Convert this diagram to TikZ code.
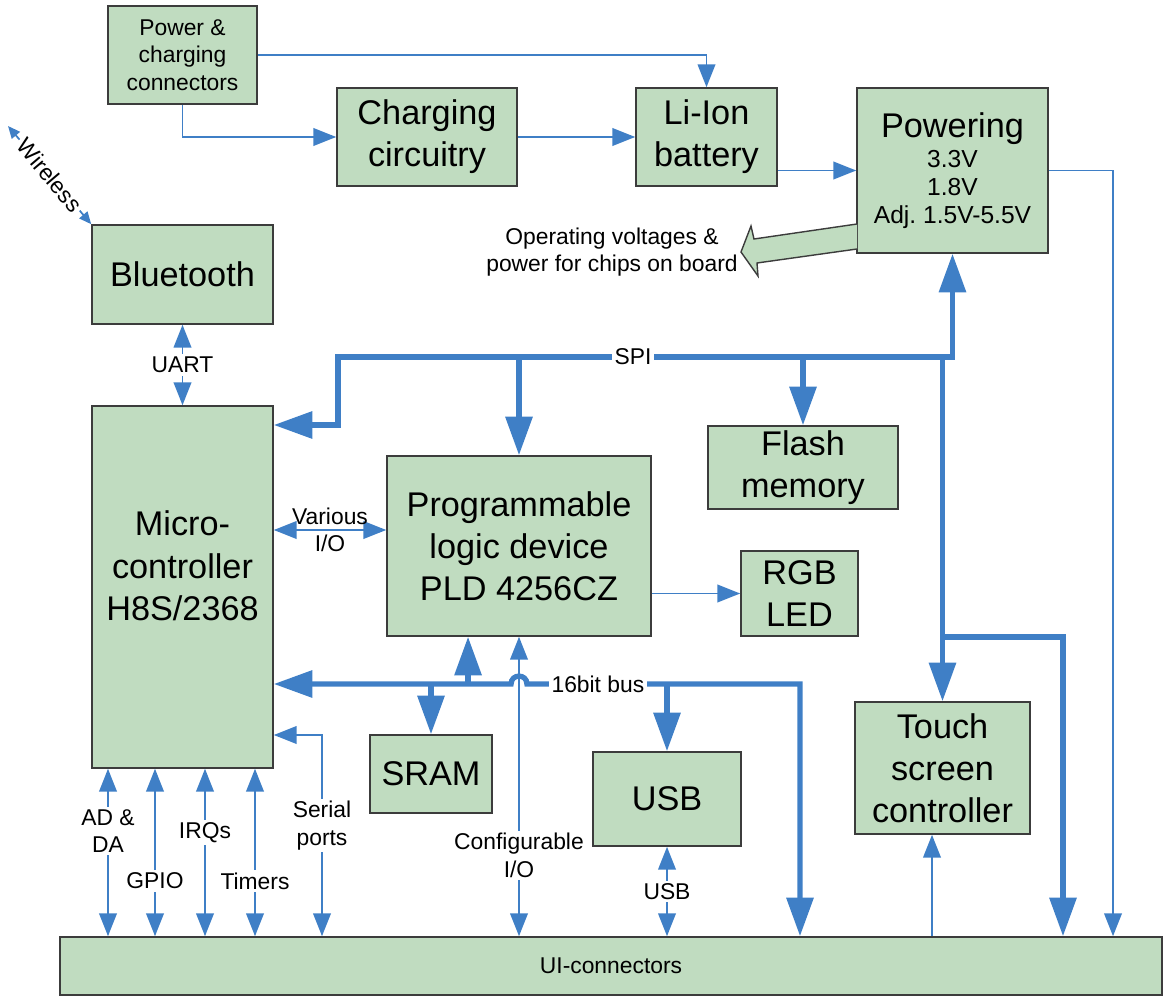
\documentclass[tikz,border=0pt]{standalone}
\usepackage{fontspec}
\setmainfont{Liberation Sans}
\usetikzlibrary{arrows.meta}
\definecolor{boardblue}{HTML}{3F7FC6}
\definecolor{boardgreen}{HTML}{C0DCC0}
\definecolor{boardedge}{HTML}{3C3C3C}
\newcommand{\bigfont}{\fontsize{19.5}{24}\selectfont}
\newcommand{\midfont}{\fontsize{14}{16}\selectfont}
\newcommand{\smallfont}{\fontsize{13}{15.5}\selectfont}

\begin{document}
\begin{tikzpicture}[x=0.02cm, y=-0.02cm,
  box/.style={draw=boardedge, line width=0.9pt, fill=boardgreen, align=center, font=\bigfont, inner sep=2pt},
  sbox/.style={box, font=\smallfont},
  lbl/.style={font=\smallfont, align=center, inner sep=1.5pt, fill=white},
  tarr/.style={-{Triangle[length=13pt, width=10pt]}, line width=1.1pt, draw=boardblue},
  tdarr/.style={tarr, {Triangle[length=13pt, width=10pt]}-{Triangle[length=13pt, width=10pt]}},
  warr/.style={{Triangle[length=7pt, width=6pt]}-{Triangle[length=7pt, width=6pt]}, line width=1pt, draw=boardblue},
  barr/.style={-{Triangle[length=22pt, width=15pt]}, line width=3pt, draw=boardblue},
  bdarr/.style={barr, {Triangle[length=22pt, width=15pt]}-{Triangle[length=22pt, width=15pt]}},
]
\useasboundingbox (0,0) rectangle (1164,997);

% blocks
\node[sbox, minimum width=2.98cm, minimum height=1.96cm] (pcc) at (182.5,55) {Power \&\\charging\\connectors};
\node[box, minimum width=3.6cm, minimum height=1.96cm] (chg) at (427,137) {Charging\\circuitry};
\node[box, minimum width=2.82cm, minimum height=1.96cm] (bat) at (706.5,137) {Li-Ion\\battery};
\node[box, font=\midfont, minimum width=3.82cm, minimum height=3.3cm] (pwr) at (952.5,170.5) {\bigfont Powering\\[1pt]3.3V\\1.8V\\Adj.\ 1.5V-5.5V};
\node[box, minimum width=3.62cm, minimum height=1.98cm] (bt) at (182.5,274.5) {Bluetooth};
\node[box, minimum width=3.62cm, minimum height=7.24cm] (mcu) at (182.5,587) {};
\node[font=\bigfont, align=center] (mcutxt) at ([yshift=12pt]mcu.center) {Micro-\\controller\\H8S/2368};
\node[box, minimum width=5.28cm, minimum height=3.6cm] (pld) at (519,546) {Programmable\\logic device\\PLD 4256CZ};
\node[box, minimum width=3.8cm, minimum height=1.66cm] (flash) at (803,467.5) {Flash\\memory};
\node[box, minimum width=2.34cm, minimum height=1.7cm] (rgb) at (799.5,593.5) {RGB\\LED};
\node[box, minimum width=2.44cm, minimum height=1.56cm] (sram) at (431,774) {SRAM};
\node[box, minimum width=2.96cm, minimum height=1.88cm] (usb) at (667,799) {USB};
\node[box, minimum width=3.5cm, minimum height=2.64cm] (tsc) at (942.5,768) {Touch\\screen\\controller};
\node[sbox, minimum width=22.04cm, minimum height=1.16cm] (ui) at (611,966) {UI-connectors};

% supply outlet
\draw[draw=boardedge, line width=0.8pt, fill=boardgreen] (857,224) -- (754,239) -- (751,226) -- (741,252) -- (758,276) -- (757,263) -- (857,249);
\node[font=\smallfont, align=center] (opv) at (612,252) {Operating voltages \&\\power for chips on board};

% lanes
\coordinate (air) at (8,126);
\coordinate (pwrlane) at (1113,0);
\coordinate (spi) at (338,357);
\coordinate (spiin) at (0,425);
\coordinate (vio) at (0,530);
\coordinate (bus) at (0,684);
\coordinate (busdrop) at (800,0);
\coordinate (tscbr) at (1063,637);
\coordinate (tsclane) at (932,0);
\coordinate (serial) at (322,735);
\coordinate (pldbus) at ([xshift=-29pt]pld.south);
\coordinate (hopL) at ([xshift=-4.5pt]pld.south |- bus);
\coordinate (hopR) at ([xshift=4.5pt]pld.south |- bus);

% power path
\draw[tarr] (pcc.east) -| (bat.north);
\draw[tarr] (pcc.south) |- (chg.west);
\draw[tarr] (chg) -- (bat);
\draw[tarr] (bat.east |- pwr.west) -- (pwr.west);
\draw[tarr] (pwr.east) -| (ui.north -| pwrlane);

% thin links
\draw[warr] (air) -- node[lbl, sloped] {Wireless} (bt.north west);
\draw[tdarr] (bt) -- node[lbl] {UART} (mcu);
\draw[tdarr] (mcu.east |- vio) -- node[lbl, fill=none] {Various\\I/O} (pld.west |- vio);
\draw[tarr] (pld.east |- rgb) -- (rgb);
\draw[tdarr] (pld.south) -- node[lbl, pos=0.73] {Configurable\\I/O} (ui.north -| pld.south);
\draw[tdarr] (usb) -- node[lbl] {USB} (ui.north -| usb);
\draw[tarr] (ui.north -| tsclane) -- (tsc.south -| tsclane);
\foreach \x/\txt/\p in {108/{AD \&\\DA}/0.37, 155/GPIO/0.67, 205/IRQs/0.38, 255/Timers/0.67}{
  \coordinate (pin) at (\x,0);
  \draw[tdarr] (mcu.south -| pin) -- node[lbl, pos=\p] {\txt} (ui.north -| pin);
}
\draw[tdarr] (ui.north -| serial) -- node[lbl, pos=0.55] {Serial\\ports} (serial) -- (mcu.east |- serial);

% SPI bus
\draw[bdarr] (mcu.east |- spiin) -| (spi) -| node[lbl, pos=0.24] {SPI} (pwr.south);
\draw[barr] (spi -| pld.north) -- (pld.north);
\draw[barr] (spi -| flash.north) -- (flash.north);
\draw[barr] (spi -| tsc.north) -- (tsc.north);
\draw[barr] (tsc.north |- tscbr) -| (ui.north -| tscbr);

% 16bit bus
\draw[bdarr] (mcu.east |- bus) -- (hopL) .. controls ([yshift=6pt]hopL) and ([yshift=6pt]hopR) .. (hopR) -- node[lbl, pos=0.26] {16bit bus} (busdrop |- bus) -- (ui.north -| busdrop);
\draw[barr] (pldbus |- bus) -- (pldbus);
\draw[barr] (sram.north |- bus) -- (sram.north);
\draw[barr] (usb.north |- bus) -- (usb.north);
\end{tikzpicture}
\end{document}
